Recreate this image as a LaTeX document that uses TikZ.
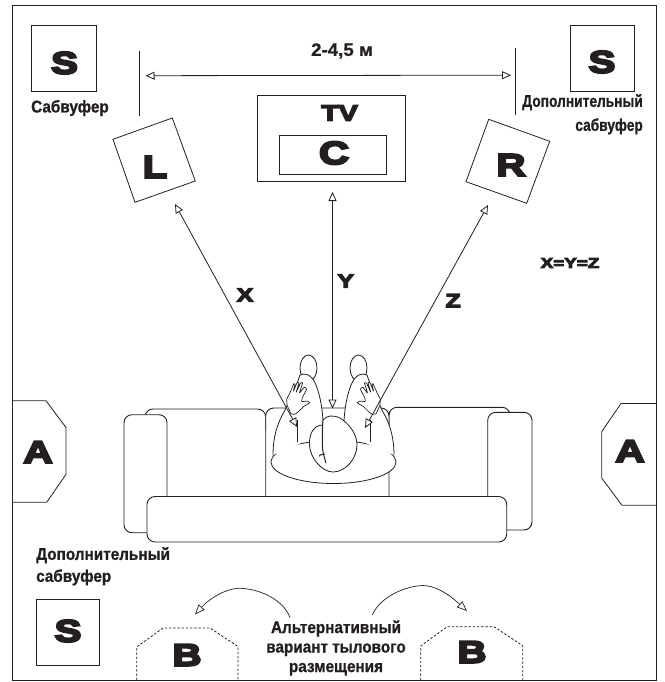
\documentclass[tikz,border=0pt]{standalone}
\usepackage{fontspec}
\usetikzlibrary{arrows.meta}
\setmainfont{Liberation Sans}
\newfontfamily\widefont[FakeStretch=1.3,FakeBold=7]{Liberation Sans Bold}
\newfontfamily\labelfont[FakeStretch=0.9,FakeBold=0.9]{Liberation Sans Bold}
\newfontfamily\labelnarrow[FakeStretch=0.81,FakeBold=0.9]{Liberation Sans Bold}
\newfontfamily\dimfont[FakeStretch=1.04,FakeBold=0.6]{Liberation Sans Bold}
\definecolor{ink}{HTML}{231F20}
\tikzset{
  shape line/.style={draw=ink,line width=0.8pt,line join=miter},
  sofa line/.style={draw=ink,line width=0.9pt,fill=white,rounded corners=8pt},
  dash box/.style={draw=ink,line width=0.8pt,dash pattern=on 2.4pt off 1.8pt},
  body line/.style={draw=ink,line width=0.8pt,fill=white},
  bigletter/.style={inner sep=0pt,text=ink,font=\widefont\fontsize{31}{31}\selectfont},
  midletter/.style={inner sep=0pt,text=ink,font=\widefont\fontsize{19}{19}\selectfont},
  lab/.style={inner sep=0pt,text=ink,font=\labelfont\fontsize{17}{22}\selectfont},
  labn/.style={inner sep=0pt,text=ink,font=\labelnarrow\fontsize{17}{24}\selectfont},
  dim arrow/.style={draw=ink,line width=0.8pt,{Triangle[open,length=9pt,width=8pt,fill=white]}-{Triangle[open,length=9pt,width=8pt,fill=white]}},
  swing arrow/.style={draw=ink,line width=0.7pt,-{Triangle[open,length=10pt,width=8pt,fill=white]}},
}
\newcommand{\handpath}{(291,414) -- (287,405) -- (286.7,399) -- (290,392.7) -- (294,383.3) -- (295,384.3) -- (293.3,391.7) -- (296.7,383.3) -- (298.3,382) -- (299,383.3) -- (296,392.7) -- (300.7,382.7) -- (302.7,382.7) -- (302,385) -- (299.3,393.3) -- (304,387.3) -- (305.3,387.3) -- (306.7,389.3) -- (302,398.3) -- (301.7,401.7) -- (307.3,401) -- (310,402.7) -- (303.3,406.7) -- (298.3,411.7) -- (295,414.3) -- cycle}
\newcommand{\legpath}{(273,455) .. controls (273,436) and (278,422) .. (284,412) .. controls (290,400) and (295,390) .. (300,375) .. controls (304,373) and (311,373) .. (316,385) .. controls (321,398) and (323,412) .. (323.5,432)}
\begin{document}
\begin{tikzpicture}[x=1pt,y=-1pt]
\useasboundingbox (0,0) rectangle (664,682);
% frame
\draw[draw=ink,line width=1.3pt] (12.3,5.8) rectangle (656.5,680.3);
% subwoofers
\draw[shape line] (31.5,25) rectangle (96,91.5);
\draw[shape line] (570,25) rectangle (634,91.5);
\draw[shape line] (36,599) rectangle (99.5,665.5);
\node[bigletter] (s1) at (64.5,63) {S};
\node[bigletter] (s2) at (602,62) {S};
\node[bigletter] (s3) at (68,631) {S};
\node[lab,anchor=west] (subl) at (31,108) {Сабвуфер};
\node[labn,anchor=north east,align=right] (subr) at (643,94) {Дополнительный\\сабвуфер};
\node[lab,anchor=north west,align=left] (subb) at (36,547) {Дополнительный\\сабвуфер};
% width dimension
\coordinate (tickLa) at (139.5,51); \coordinate (tickLb) at (139.5,116.5);
\coordinate (tickRa) at (515.8,48); \coordinate (tickRb) at (515.8,115);
\draw[shape line] (tickLa) -- (tickLb);
\draw[shape line] (tickRa) -- (tickRb);
\coordinate (dimL) at (145.5,75.7); \coordinate (dimR) at (511,75.2);
\draw[dim arrow] (dimL) -- (dimR);
\node[inner sep=0pt,text=ink,font=\dimfont\fontsize{18}{18}\selectfont] (dimtext) at (342,51) {2-4,5 м};
% TV and centre
\draw[shape line] (257.7,95.3) rectangle (405.3,181.3);
\draw[shape line] (279.5,135.7) rectangle (386.5,174.5);
\node[inner sep=0pt,text=ink,font=\widefont\fontsize{22}{22}\selectfont] (tv) at (339.5,113) {TV};
\node[inner sep=0pt,text=ink,font=\widefont\fontsize{32}{32}\selectfont] (c) at (334,153) {C};
% front speakers
\draw[shape line] (172.3,118) -- (195.3,181) -- (135,202.3) -- (113,139.3) -- cycle;
\draw[shape line] (488.7,119.3) -- (549.7,141.3) -- (526.7,203.3) -- (466,181.7) -- cycle;
\node[bigletter] (l) at (155,167) {L};
\node[bigletter] (r) at (511,165) {R};
% side speakers
\draw[shape line] (12.3,400.7) -- (46,400.7) -- (66,427.5) -- (66,474.3) -- (46.7,502.3) -- (12.3,502.3);
\draw[shape line] (656.5,403.5) -- (621,403.5) -- (601.7,431.7) -- (601.7,478) -- (622,505.3) -- (656.5,505.3);
\node[bigletter] (al) at (38,452) {A};
\node[bigletter] (ar) at (630,451) {A};
% rear alternatives
\draw[dash box] (136.7,680) -- (136.7,647) -- (163,628) -- (210,628) -- (238,646.5) -- (238,680);
\draw[dash box] (420.7,680) -- (420.7,646) -- (447,626.7) -- (494,626.7) -- (522.7,645.7) -- (522.7,680);
\node[bigletter] (bl) at (187,655) {B};
\node[bigletter] (br) at (472,652) {B};
\node[lab,align=center,font=\labelfont\fontsize{17}{19.5}\selectfont] (alt) at (336,648) {Альтернативный\\вариант тылового\\размещения};
\coordinate (swLa) at (290,617.5); \coordinate (swLb) at (195,614.5);
\coordinate (swRa) at (372.3,615); \coordinate (swRb) at (467,611);
\draw[swing arrow] (swLa) .. controls (282,597) and (255,588) .. (238,588.3) .. controls (224,589) and (208,600) .. (swLb);
\draw[swing arrow] (swRa) .. controls (380,597) and (405,586) .. (423,585.5) .. controls (440,586) and (455,600) .. (swRb);
% sofa
\draw[sofa line] (145,420) -- (145,409) -- (265.7,409) -- (265.7,430);
\draw[sofa line] (510,420) -- (510,407.3) -- (389,407.3) -- (389,430);
\draw[sofa line] (265.7,500) -- (265.7,408) -- (389,408) -- (389,500);
\draw[sofa line] (124,414.7) rectangle (167,532.7);
\draw[sofa line] (487.7,412.3) rectangle (532,530);
\draw[sofa line] (147,496.5) rectangle (506.7,542);
% person
\draw[body line] (333.5,462) ellipse [x radius=62.5,y radius=21.5];
\draw[body line] (308.5,368) ellipse [x radius=8.5,y radius=13];
\draw[body line] (358.5,368) ellipse [x radius=8.5,y radius=13];
\path[fill=white] \legpath -- (297,445) -- cycle;
\draw[draw=ink,line width=0.8pt] \legpath;
\begin{scope}[xshift=667pt,xscale=-1]
\path[fill=white] \legpath -- (297,445) -- cycle;
\draw[draw=ink,line width=0.8pt] \legpath;
\draw[draw=ink,line width=0.8pt] (297,420) -- (297,442);
\draw[body line,line width=0.7pt,rounded corners=0.6pt,line join=round] \handpath;
\end{scope}
\draw[draw=ink,line width=0.8pt] (297,420) -- (297,442);
\draw[body line,line width=0.7pt,rounded corners=0.6pt,line join=round] \handpath;
\draw[body line] (323,420) .. controls (327,415) and (333,415) .. (340,418)
  .. controls (348,423) and (357,433) .. (357,445)
  .. controls (357,458) and (346,472) .. (333,472)
  .. controls (322,472) and (310,458) .. (309.5,445)
  .. controls (309,433) and (314,425) .. (323,425);
\draw[draw=ink,line width=1pt] (323,420) .. controls (322,432) and (322,445) .. (323,452) .. controls (324,456) and (325,460) .. (326,463);
\draw[draw=ink,line width=1pt] (319.5,456.5) -- (320,455) -- (325,454);
% distance arrows
\coordinate (xa) at (175,204); \coordinate (xb) at (297,427);
\coordinate (ya) at (332.5,192); \coordinate (yb) at (332.5,408.5);
\coordinate (za) at (488,205); \coordinate (zb) at (365,428);
\draw[dim arrow] (xa) -- (xb);
\draw[dim arrow] (ya) -- (yb);
\draw[dim arrow] (za) -- (zb);
\node[midletter] (x) at (245,295) {X};
\node[midletter] (y) at (345.7,281) {Y};
\node[midletter] (z) at (453,300.7) {Z};
\node[inner sep=0pt,text=ink,font=\widefont\fontsize{14.5}{15}\selectfont] (eq) at (570,263) {X=Y=Z};
\end{tikzpicture}
\end{document}
